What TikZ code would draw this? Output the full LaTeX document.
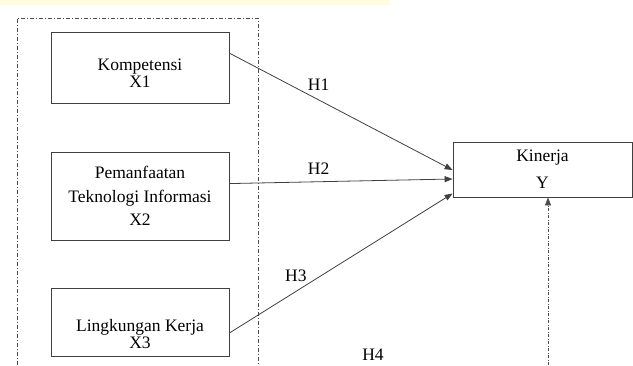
\documentclass[tikz,border=0pt]{standalone}
\usepackage{fontspec}
\setmainfont{Liberation Serif}
\usetikzlibrary{arrows.meta,calc}

\begin{document}
\begin{tikzpicture}[x=1pt, y=-1pt, line width=0.8pt,
    font=\fontsize{17.5}{17}\selectfont,
    main box/.style={rectangle, draw=black!75, align=center, minimum width=178pt, inner sep=0pt},
    group line/.style={draw=black!70, line width=0.6pt, dash pattern=on 4pt off 2pt on 1pt off 2pt},
    >={Triangle[length=8pt,width=6pt]}]

            \useasboundingbox (0,0) rectangle (633,365);
            \fill[yellow!12] (0,0) rectangle (390,5);

            % variabel bebas
            \node[main box, minimum height=71pt] at (140,67.5) (x1) {\\[6pt]Kompetensi\\X1};
            \node[main box, minimum height=88pt] at (140,196) (x2) {Pemanfaatan\\[7pt]Teknologi Informasi\\[6pt]X2};
            \node[main box, minimum height=68pt] at (140,322) (x3) {\\[20pt]Lingkungan Kerja\\X3};
            \node[main box, minimum width=179pt, minimum height=55pt] at (542.5,169.5) (kin) {Kinerja\\[10pt]Y};

            % kotak garis putus
            \draw[group line] (17,365) -- (17,18) -- (258,18) -- (258,365);

            \coordinate (x1e) at ($(x1.north east)!0.3!(x1.south east)$);
            \coordinate (x2e) at ($(x2.north east)!0.36!(x2.south east)$);
            \coordinate (x3e) at ($(x3.north east)!0.66!(x3.south east)$);
            \coordinate (k1) at ($(kin.north west)!0.51!(kin.south west)$);
            \coordinate (k2) at ($(kin.north west)!0.67!(kin.south west)$);
            \coordinate (k3) at ($(kin.north west)!0.93!(kin.south west)$);
            \coordinate (h4s) at (548,365);

            \path[->] (x1e) edge[black!75] node[pos=0.4, above=6pt, text=black] {H1} (k1);
            \path[->] (x2e) edge[black!75] node[pos=0.4, above=4pt, text=black] {H2} (k2);
            \path[->] (x3e) edge[black!75] node[pos=0.32, above=3pt, xshift=-5pt, text=black] {H3} (k3);
            \path[->] (h4s) edge[black!70, line width=0.6pt, dash pattern=on 3pt off 1.5pt on 1pt off 1.5pt] (h4s |- kin.south);

            \node at (373,355) (h4) {H4};
        \end{tikzpicture}
\end{document}
